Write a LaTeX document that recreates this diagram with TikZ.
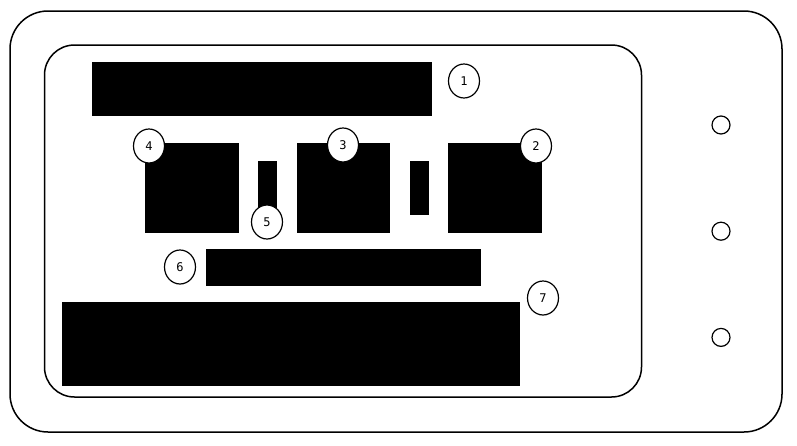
\documentclass[tikz,border=0pt]{standalone}
\usepackage{fontspec}
\setmonofont{DejaVu Sans Mono}
\usepackage{tikz}
\usetikzlibrary{shapes.geometric, positioning}

\begin{document}
\begin{tikzpicture}[
    x=1pt, y=-1pt,
    frame/.style={draw=black, line width=1.5pt, rounded corners=#1},
    block/.style={rectangle, fill=black, inner sep=0pt},
    callout/.style={ellipse, draw=black, line width=1.2pt, fill=white, minimum width=31pt, minimum height=34pt, inner sep=0pt, font=\ttfamily\fontsize{12}{12}\selectfont},
    port/.style={circle, draw=black, line width=1.2pt, minimum size=18pt, inner sep=0pt}
]
\useasboundingbox (0,0) rectangle (797,445);

% housing and screen
\draw [frame=38pt] (10,11) rectangle (782,432);
\draw [frame=30pt] (44.5,45) rectangle (641.5,397);

% blocks
\node (bar1) [block, minimum width=340pt, minimum height=54pt] at (262,89) {};
\node (box4) [block, minimum width=94pt, minimum height=90pt] at (192,188) {};
\node (slot5) [block, minimum width=19pt, minimum height=54pt] at (267.5,188) {};
\node (box3) [block, minimum width=93pt, minimum height=90pt] at (343.5,188) {};
\node (slotR) [block, minimum width=19pt, minimum height=54pt] at (419.5,188) {};
\node (box2) [block, minimum width=94pt, minimum height=90pt] at (495,188) {};
\node (bar6) [block, minimum width=275pt, minimum height=37pt] at (343.5,267.5) {};
\node (bar7) [block, minimum width=458pt, minimum height=84pt] at (291,344) {};

% callouts
\node (c1) [callout] at (464,81) {1};
\node (c2) [callout] at (536,146) {2};
\node (c3) [callout] at (343,145) {3};
\node (c4) [callout] at (149,146) {4};
\node (c5) [callout] at (267,222) {5};
\node (c6) [callout] at (180,267) {6};
\node (c7) [callout] at (543,298) {7};

% buttons
\node (p1) [port] at (721,125) {};
\node (p2) [port, below=87pt of p1] {};
\node (p3) [port, below=87pt of p2] {};
\end{tikzpicture}
\end{document}
